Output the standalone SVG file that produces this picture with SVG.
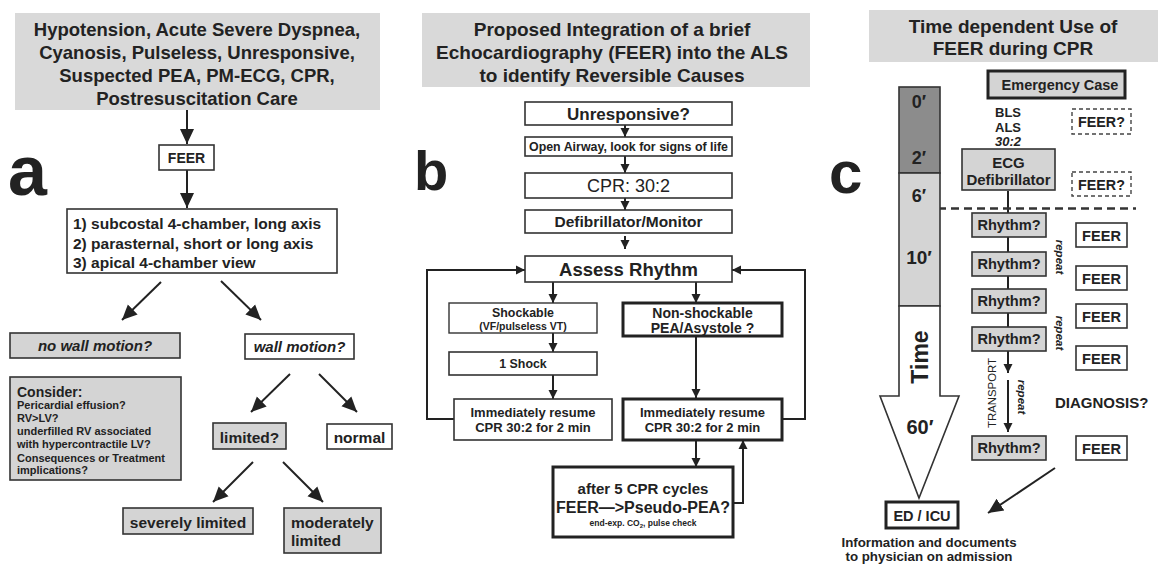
<svg xmlns="http://www.w3.org/2000/svg" width="1162" height="564" viewBox="0 0 1162 564">
<style>
text{font-family:"Liberation Sans",Arial,Helvetica,sans-serif;font-weight:bold;fill:#222}
.c{text-anchor:middle}
.hdr{fill:#d9d9d9;stroke:none}
.box{fill:#fff;stroke:#333;stroke-width:1.6}
.gbox{fill:#d4d4d4;stroke:#333;stroke-width:1.6}
.tbox{fill:#fff;stroke:#222;stroke-width:3}
.tgbox{fill:#d4d4d4;stroke:#222;stroke-width:3}
.dbox{fill:#fff;stroke:#444;stroke-width:1.4;stroke-dasharray:4 3}
.ln{fill:none;stroke:#222;stroke-width:2}
.la{fill:none;stroke:#222;stroke-width:2;marker-end:url(#big)}
.sa{fill:none;stroke:#222;stroke-width:2;marker-end:url(#sm)}
</style>
<defs>
<marker id="big" markerUnits="userSpaceOnUse" markerWidth="16" markerHeight="16" refX="15" refY="7" orient="auto" viewBox="0 0 16 14">
<path d="M0,0 L15,7 L0,14 z" fill="#222"/>
</marker>
<marker id="sm" markerUnits="userSpaceOnUse" markerWidth="10" markerHeight="10" refX="9" refY="4.5" orient="auto" viewBox="0 0 10 9">
<path d="M0,0 L9,4.5 L0,9 z" fill="#222"/>
</marker>
</defs>

<!-- panel letters -->
<text x="8" y="195" style="font-size:70px">a</text>
<text x="414" y="190" style="font-size:56px">b</text>
<text x="829" y="193" style="font-size:60px">c</text>

<!-- connectors -->
<g id="connectors">
<line class="la" x1="187" y1="110" x2="187" y2="144"/>
<line class="la" x1="187" y1="170" x2="187" y2="208"/>
<line class="la" x1="161" y1="282" x2="122" y2="320"/>
<line class="la" x1="221" y1="281" x2="261" y2="320"/>
<line class="la" x1="290" y1="374" x2="251" y2="412"/>
<line class="la" x1="319" y1="374" x2="357" y2="412"/>
<line class="la" x1="253" y1="462" x2="213" y2="502"/>
<line class="la" x1="283" y1="462" x2="323" y2="502"/>

<line class="sa" x1="625" y1="125" x2="625" y2="137"/>
<line class="sa" x1="625" y1="156" x2="625" y2="173"/>
<line class="sa" x1="625" y1="198" x2="625" y2="210"/>
<line class="sa" x1="625" y1="236" x2="625" y2="249"/>
<line class="sa" x1="553" y1="282" x2="553" y2="303"/>
<line class="sa" x1="696" y1="282" x2="696" y2="303"/>
<line class="sa" x1="553" y1="333" x2="553" y2="352"/>
<line class="sa" x1="553" y1="375" x2="553" y2="399"/>
<line class="sa" x1="696" y1="336" x2="696" y2="398"/>
<polyline class="sa" points="454,419 427,419 427,270 525,270"/>
<polyline class="sa" points="782,419 805,419 805,270 732,270"/>
<line class="sa" x1="696" y1="440" x2="696" y2="467"/>
<polyline class="sa" points="733,503 743,503 743,440"/>

<line class="ln" x1="1008" y1="191" x2="1008" y2="352"/>
<line class="sa" x1="1008" y1="352" x2="1008" y2="373"/>
<line class="sa" x1="1008" y1="380" x2="1008" y2="432"/>
<line class="la" x1="1055" y1="468" x2="988" y2="513"/>
<line x1="899" y1="208.5" x2="1136" y2="208.5" stroke="#333" stroke-width="2.5" stroke-dasharray="8 5"/>
</g>

<!-- PANEL A -->
<g id="a-header">
<rect class="hdr" x="15" y="13" width="365" height="97"/>
<text class="c" x="197" y="36" style="font-size:18.5px">Hypotension, Acute Severe  Dyspnea,</text>
<text class="c" x="197" y="59" style="font-size:18.5px">Cyanosis, Pulseless, Unresponsive,</text>
<text class="c" x="197" y="82" style="font-size:18.5px">Suspected PEA, PM-ECG, CPR,</text>
<text class="c" x="197" y="105" style="font-size:18.5px">Postresuscitation  Care</text>
</g>
<g id="a-feer">
<rect class="box" x="159" y="145" width="55" height="25"/>
<text class="c" x="186.5" y="163" style="font-size:14px">FEER</text>
</g>
<g id="a-views">
<rect class="box" x="67" y="209" width="270" height="64"/>
<text x="73" y="229" style="font-size:15.5px">1) subcostal 4-chamber, long axis</text>
<text x="73" y="248.5" style="font-size:15.5px">2) parasternal, short or long axis</text>
<text x="73" y="268" style="font-size:15.5px">3) apical 4-chamber view</text>
</g>
<g id="a-nowall">
<rect class="gbox" x="10" y="333" width="170" height="25"/>
<text class="c" x="95" y="351" style="font-size:15px;font-style:italic">no wall motion?</text>
</g>
<g id="a-wall">
<rect class="box" x="245" y="334" width="109" height="25"/>
<text class="c" x="299.5" y="352" style="font-size:15px;font-style:italic">wall motion?</text>
</g>
<g id="a-consider">
<rect class="gbox" x="10" y="377" width="171" height="103"/>
<text x="17" y="397" style="font-size:14px">Consider:</text>
<text x="17" y="409" style="font-size:11px">Pericardial effusion?</text>
<text x="17" y="422" style="font-size:11px">RV&gt;LV?</text>
<text x="17" y="435" style="font-size:11px">underfilled RV associated</text>
<text x="17" y="448" style="font-size:11px">with hypercontractile LV?</text>
<text x="17" y="462" style="font-size:11px">Consequences or Treatment</text>
<text x="17" y="474" style="font-size:11px">implications?</text>
</g>
<g id="a-limited">
<rect class="gbox" x="213" y="423" width="73" height="26"/>
<text class="c" x="249.5" y="443" style="font-size:15.5px">limited?</text>
</g>
<g id="a-normal">
<rect class="box" x="327" y="424" width="65" height="25"/>
<text class="c" x="359.5" y="443" style="font-size:15.5px">normal</text>
</g>
<g id="a-severe">
<rect class="gbox" x="123" y="508" width="130" height="26"/>
<text class="c" x="188" y="528" style="font-size:15.5px">severely limited</text>
</g>
<g id="a-moderate">
<rect class="gbox" x="284" y="508" width="97" height="45"/>
<text x="291" y="528" style="font-size:15.5px">moderately</text>
<text x="291" y="546" style="font-size:15.5px">limited</text>
</g>

<!-- PANEL B -->
<g id="b-header">
<rect class="hdr" x="422" y="13" width="388" height="74"/>
<text class="c" x="612" y="36" style="font-size:19px">Proposed Integration of a brief</text>
<text class="c" x="612" y="59" style="font-size:19px">Echocardiography (FEER) into the ALS</text>
<text class="c" x="612" y="82" style="font-size:19px">to identify Reversible Causes</text>
</g>
<g id="b-unresponsive">
<rect class="box" x="525" y="102" width="207" height="23"/>
<text class="c" x="628.5" y="120" style="font-size:17px">Unresponsive?</text>
</g>
<g id="b-airway">
<rect class="box" x="525" y="137" width="207" height="19"/>
<text class="c" x="628.5" y="151" style="font-size:12.4px">Open Airway, look for signs of life</text>
</g>
<g id="b-cpr">
<rect class="box" x="525" y="173" width="207" height="25"/>
<text class="c" x="628.5" y="192" style="font-size:18px;font-weight:normal">CPR: 30:2</text>
</g>
<g id="b-defib">
<rect class="box" x="525" y="210" width="207" height="23"/>
<text class="c" x="628.5" y="227" style="font-size:15.5px">Defibrillator/Monitor</text>
</g>
<g id="b-assess">
<rect class="box" x="525" y="256" width="207" height="26"/>
<text class="c" x="628.5" y="276" style="font-size:18.5px">Assess Rhythm</text>
</g>
<g id="b-shockable">
<rect class="box" x="449" y="303" width="148" height="30" style="stroke-width:1.4"/>
<text class="c" x="523" y="317" style="font-size:12.4px">Shockable</text>
<text class="c" x="523" y="330" style="font-size:10.5px">(VF/pulseless VT)</text>
</g>
<g id="b-nonshock">
<rect class="tbox" x="623" y="303" width="159" height="33"/>
<text class="c" x="702.5" y="318" style="font-size:14px">Non-shockable</text>
<text class="c" x="702.5" y="333" style="font-size:14px">PEA/Asystole ?</text>
</g>
<g id="b-shock">
<rect class="box" x="449" y="352" width="148" height="23"/>
<text class="c" x="523" y="368" style="font-size:12.4px">1 Shock</text>
</g>
<g id="b-resume-left">
<rect class="box" x="454" y="399" width="158" height="41"/>
<text class="c" x="533" y="417" style="font-size:13px">Immediately resume</text>
<text class="c" x="533" y="432" style="font-size:13px">CPR 30:2 for 2 min</text>
</g>
<g id="b-resume-right">
<rect class="tbox" x="623" y="399" width="159" height="41"/>
<text class="c" x="702.5" y="417" style="font-size:13px">Immediately resume</text>
<text class="c" x="702.5" y="432" style="font-size:13px">CPR 30:2 for 2 min</text>
</g>
<g id="b-after">
<rect class="tbox" x="553" y="467" width="180" height="70"/>
<text class="c" x="643" y="494" style="font-size:15px">after 5 CPR cycles</text>
<text class="c" x="643" y="513" style="font-size:16px">FEER—&gt;Pseudo-PEA?</text>
<text class="c" x="643" y="526" style="font-size:8.5px">end-exp. CO<tspan style="font-size:6px" dy="2">2</tspan><tspan dy="-2">, pulse check</tspan></text>
</g>

<!-- PANEL C -->
<g id="c-header">
<rect class="hdr" x="869" y="10" width="289" height="52"/>
<text class="c" x="1013" y="33" style="font-size:19px">Time dependent Use of</text>
<text class="c" x="1013" y="55" style="font-size:19px">FEER during CPR</text>
</g>
<g id="c-timeline">
<rect x="899" y="87" width="41" height="86" fill="#8c8c8c" stroke="#333" stroke-width="1.6"/>
<rect x="899" y="173" width="41" height="133" fill="#d4d4d4" stroke="#333" stroke-width="1.6"/>
<path d="M899,306 L899,396 L880,396 L919,498 L959,396 L940,396 L940,306 Z" fill="#fff" stroke="#333" stroke-width="1.6"/>
<text class="c" x="919" y="108" style="font-size:18px">0′</text>
<text class="c" x="919" y="164" style="font-size:18px">2′</text>
<text class="c" x="919" y="202" style="font-size:18px">6′</text>
<text class="c" x="919" y="264" style="font-size:19px">10′</text>
<text class="c" transform="translate(928,357) rotate(-90)" style="font-size:23px">Time</text>
<text class="c" x="920" y="434" style="font-size:20px">60′</text>
</g>
<g id="c-emergency">
<rect class="tgbox" x="988" y="71" width="137" height="27"/>
<text class="c" x="1060" y="90" style="font-size:14.5px">Emergency Case</text>
</g>
<g id="c-bls">
<text class="c" x="1008" y="117" style="font-size:13px">BLS</text>
<text class="c" x="1008" y="131.5" style="font-size:13px">ALS</text>
<text class="c" x="1008" y="146" style="font-size:13px;font-style:italic">30:2</text>
</g>
<g id="c-feerq1">
<rect class="dbox" x="1072" y="109" width="59" height="25"/>
<text class="c" x="1101.5" y="127" style="font-size:14.3px">FEER?</text>
</g>
<g id="c-ecg">
<rect class="gbox" x="962" y="149" width="93" height="41"/>
<text class="c" x="1008.5" y="168" style="font-size:15px">ECG</text>
<text class="c" x="1008.5" y="185" style="font-size:15px">Defibrillator</text>
</g>
<g id="c-feerq2">
<rect class="dbox" x="1072" y="172" width="59" height="24"/>
<text class="c" x="1101.5" y="190" style="font-size:14.3px">FEER?</text>
</g>
<g id="c-rhythm1"><rect class="gbox" x="972" y="213" width="74" height="24"/><text class="c" x="1009" y="230" style="font-size:14.6px">Rhythm?</text></g>
<g id="c-rhythm2"><rect class="gbox" x="972" y="252" width="74" height="24"/><text class="c" x="1009" y="269" style="font-size:14.6px">Rhythm?</text></g>
<g id="c-rhythm3"><rect class="gbox" x="972" y="289" width="74" height="24"/><text class="c" x="1009" y="306" style="font-size:14.6px">Rhythm?</text></g>
<g id="c-rhythm4"><rect class="gbox" x="972" y="327" width="74" height="24"/><text class="c" x="1009" y="344" style="font-size:14.6px">Rhythm?</text></g>
<g id="c-rhythm5"><rect class="gbox" x="972" y="436" width="74" height="24"/><text class="c" x="1009" y="453" style="font-size:14.6px">Rhythm?</text></g>
<g id="c-feer1"><rect class="box" x="1076" y="223" width="51" height="24"/><text class="c" x="1101.5" y="241" style="font-size:14.6px">FEER</text></g>
<g id="c-feer2"><rect class="box" x="1076" y="266" width="51" height="24"/><text class="c" x="1101.5" y="284" style="font-size:14.6px">FEER</text></g>
<g id="c-feer3"><rect class="box" x="1076" y="304" width="51" height="24"/><text class="c" x="1101.5" y="322" style="font-size:14.6px">FEER</text></g>
<g id="c-feer4"><rect class="box" x="1076" y="346" width="51" height="24"/><text class="c" x="1101.5" y="364" style="font-size:14.6px">FEER</text></g>
<g id="c-feer5"><rect class="box" x="1076" y="436" width="51" height="24"/><text class="c" x="1101.5" y="454" style="font-size:14.6px">FEER</text></g>
<g id="c-labels">
<text class="c" transform="translate(1056,257) rotate(90)" style="font-size:11.5px;font-style:italic">repeat</text>
<text class="c" transform="translate(1056,333) rotate(90)" style="font-size:11.5px;font-style:italic">repeat</text>
<text class="c" transform="translate(1018,397) rotate(90)" style="font-size:11.5px;font-style:italic">repeat</text>
<text class="c" transform="translate(996,393) rotate(-90)" style="font-size:11.4px;font-weight:normal">TRANSPORT</text>
<text x="1055" y="408" style="font-size:15px">DIAGNOSIS?</text>
</g>
<g id="c-edicu">
<rect class="tbox" x="886" y="502" width="72" height="26"/>
<text class="c" x="922" y="521" style="font-size:14.5px">ED / ICU</text>
</g>
<g id="c-info">
<text class="c" x="929" y="547" style="font-size:13.3px">Information and documents</text>
<text class="c" x="929" y="561" style="font-size:13.3px">to physician on admission</text>
</g>
</svg>
